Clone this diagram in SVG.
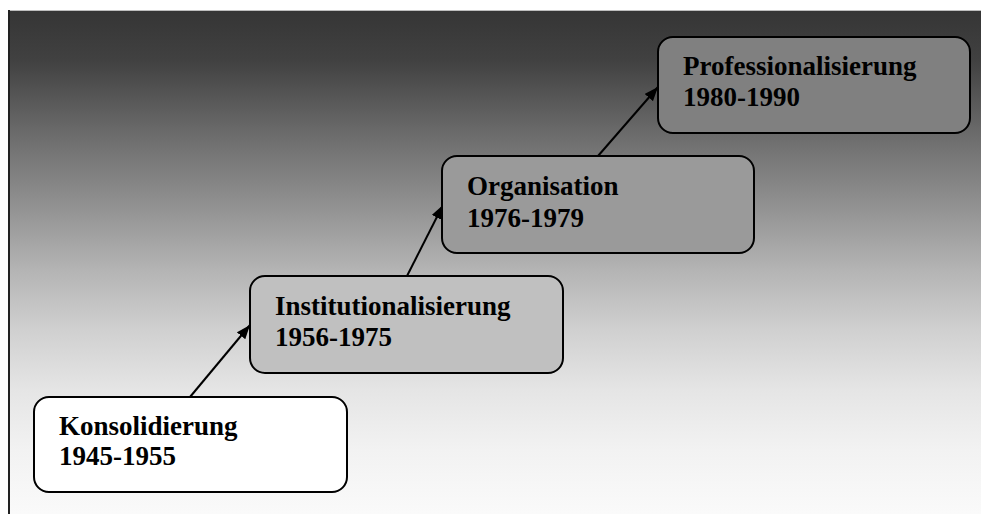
<svg xmlns="http://www.w3.org/2000/svg" width="981" height="514" viewBox="0 0 981 514">
  <defs>
    <linearGradient id="bg" x1="0" y1="0" x2="0" y2="1">
      <stop offset="0" stop-color="#353535"/>
      <stop offset="0.1" stop-color="#414141"/>
      <stop offset="0.248" stop-color="#6c6c6c"/>
      <stop offset="0.377" stop-color="#8e8e8e"/>
      <stop offset="0.516" stop-color="#b4b4b4"/>
      <stop offset="0.635" stop-color="#d0d0d0"/>
      <stop offset="0.754" stop-color="#e5e5e5"/>
      <stop offset="0.873" stop-color="#f2f2f2"/>
      <stop offset="1" stop-color="#fafafa"/>
    </linearGradient>
    <marker id="arrow" viewBox="0 0 14 11" refX="14" refY="5.5" markerWidth="14" markerHeight="11" markerUnits="userSpaceOnUse" orient="auto">
      <path d="M0,0 L14,5.5 L0,11 Z" fill="#000"/>
    </marker>
  </defs>
  <style>
    .box { stroke: #000; stroke-width: 2; }
    .label { font-family: "Liberation Serif", "Times New Roman", serif; font-weight: bold; font-size: 27px; fill: #000; }
    .link { stroke: #000; stroke-width: 2; fill: none; marker-end: url(#arrow); }
  </style>

  <!-- backdrop panel -->
  <rect x="0" y="0" width="981" height="514" fill="#ffffff"/>
  <rect x="8" y="10" width="973" height="504" fill="url(#bg)"/>
  <line x1="8" y1="10.5" x2="981" y2="10.5" stroke="#bdbdbd" stroke-width="1"/>
  <line x1="9" y1="10" x2="9" y2="514" stroke="#222" stroke-width="2"/>

  <!-- connectors -->
  <g id="connectors">
    <line class="link" x1="190" y1="397" x2="250" y2="325"/>
    <line class="link" x1="407" y1="276" x2="443" y2="205"/>
    <line class="link" x1="598" y1="156" x2="658" y2="87"/>
  </g>

  <g id="konsolidierung">
    <rect class="box" x="34" y="397" width="313" height="95" rx="15" fill="#ffffff"/>
    <text class="label" x="59" y="435">Konsolidierung</text>
    <text class="label" x="59" y="465">1945-1955</text>
  </g>

  <g id="institutionalisierung">
    <rect class="box" x="250" y="276" width="313" height="97" rx="15" fill="#c0c0c0"/>
    <text class="label" x="275" y="315">Institutionalisierung</text>
    <text class="label" x="275" y="346">1956-1975</text>
  </g>

  <g id="organisation">
    <rect class="box" x="442" y="156" width="312" height="97" rx="15" fill="#9a9a9a"/>
    <text class="label" x="467" y="195">Organisation</text>
    <text class="label" x="467" y="227">1976-1979</text>
  </g>

  <g id="professionalisierung">
    <rect class="box" x="658" y="37" width="312" height="96" rx="15" fill="#808080"/>
    <text class="label" x="683" y="75">Professionalisierung</text>
    <text class="label" x="683" y="106">1980-1990</text>
  </g>
</svg>
